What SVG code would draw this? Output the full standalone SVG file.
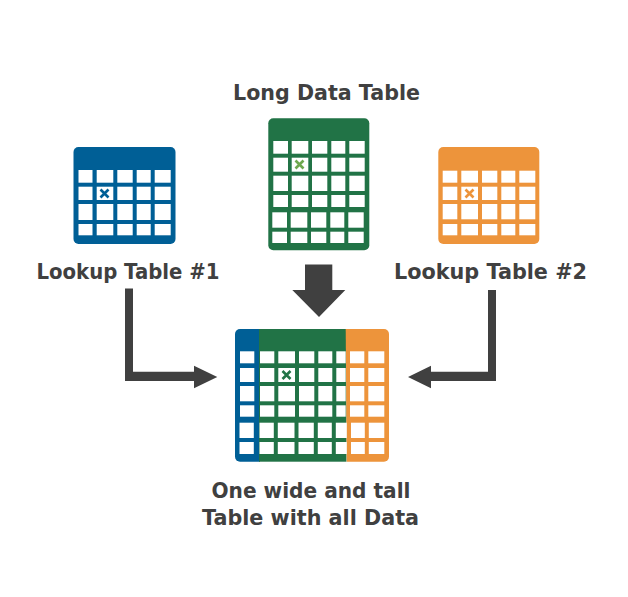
<svg xmlns="http://www.w3.org/2000/svg" width="628" height="597" viewBox="0 0 628 597">
<style>
.label{font-family:"DejaVu Sans",sans-serif;font-weight:700;font-size:21px;fill:#404040;text-anchor:middle}
.cell rect{fill:#fff}
.blue{fill:#005f96}.green{fill:#217346}.orange{fill:#ed943b}
.mark{fill:none;stroke-width:2.6}
.conn{fill:#404040}
</style>
<rect width="628" height="597" fill="#fff"/>
<g id="lookup-table-1">
<rect class="blue" x="73.5" y="147" width="102" height="97" rx="5"/>
<g class="cell">
<rect x="78.5" y="170" width="14" height="12.7"/><rect x="96.7" y="170" width="16.6" height="12.7"/><rect x="117.3" y="170" width="15.4" height="12.7"/><rect x="136.7" y="170" width="14" height="12.7"/><rect x="154.7" y="170" width="16" height="12.7"/>
<rect x="78.5" y="186.7" width="14" height="13.3"/><rect x="96.7" y="186.7" width="16.6" height="13.3"/><rect x="117.3" y="186.7" width="15.4" height="13.3"/><rect x="136.7" y="186.7" width="14" height="13.3"/><rect x="154.7" y="186.7" width="16" height="13.3"/>
<rect x="78.5" y="204" width="14" height="16"/><rect x="96.7" y="204" width="16.6" height="16"/><rect x="117.3" y="204" width="15.4" height="16"/><rect x="136.7" y="204" width="14" height="16"/><rect x="154.7" y="204" width="16" height="16"/>
<rect x="78.5" y="224" width="14" height="11.3"/><rect x="96.7" y="224" width="16.6" height="11.3"/><rect x="117.3" y="224" width="15.4" height="11.3"/><rect x="136.7" y="224" width="14" height="11.3"/><rect x="154.7" y="224" width="16" height="11.3"/>
</g>
<path class="mark" stroke="#005f96" d="M100.5 189.5l8 8m0-8l-8 8"/>
<text class="label" x="128" y="279" textLength="183" lengthAdjust="spacingAndGlyphs">Lookup Table #1</text>
</g>
<g id="long-data-table">
<rect class="green" x="268.3" y="118.3" width="101" height="132" rx="5"/>
<g class="cell">
<rect x="273.3" y="141" width="14.7" height="12.7"/><rect x="291.7" y="141" width="16.6" height="12.7"/><rect x="312" y="141" width="15.3" height="12.7"/><rect x="331.3" y="141" width="14" height="12.7"/><rect x="349.3" y="141" width="15.4" height="12.7"/>
<rect x="273.3" y="157.7" width="14.7" height="14"/><rect x="291.7" y="157.7" width="16.6" height="14"/><rect x="312" y="157.7" width="15.3" height="14"/><rect x="331.3" y="157.7" width="14" height="14"/><rect x="349.3" y="157.7" width="15.4" height="14"/>
<rect x="273.3" y="175.7" width="14.7" height="15.3"/><rect x="291.7" y="175.7" width="16.6" height="15.3"/><rect x="312" y="175.7" width="15.3" height="15.3"/><rect x="331.3" y="175.7" width="14" height="15.3"/><rect x="349.3" y="175.7" width="15.4" height="15.3"/>
<rect x="273.3" y="195" width="14.7" height="12"/><rect x="291.7" y="195" width="16.6" height="12"/><rect x="312" y="195" width="15.3" height="12"/><rect x="331.3" y="195" width="14" height="12"/><rect x="349.3" y="195" width="15.4" height="12"/>
<rect x="272.3" y="212.3" width="14.7" height="15.4"/><rect x="290.7" y="212.3" width="16.6" height="15.4"/><rect x="311" y="212.3" width="15.3" height="15.4"/><rect x="330.3" y="212.3" width="14" height="15.4"/><rect x="348.3" y="212.3" width="15.4" height="15.4"/>
<rect x="272.3" y="231.7" width="14.7" height="11.3"/><rect x="290.7" y="231.7" width="16.6" height="11.3"/><rect x="311" y="231.7" width="15.3" height="11.3"/><rect x="330.3" y="231.7" width="14" height="11.3"/><rect x="348.3" y="231.7" width="15.4" height="11.3"/>
</g>
<path class="mark" stroke="#6fa84f" d="M295.5 160.5l8 8m0-8l-8 8"/>
<text class="label" x="326.5" y="100" textLength="187" lengthAdjust="spacingAndGlyphs">Long Data Table</text>
</g>
<g id="lookup-table-2">
<rect class="orange" x="438.3" y="147" width="101" height="97" rx="5"/>
<g class="cell">
<rect x="442.7" y="170.7" width="14.6" height="12"/><rect x="461.3" y="170.7" width="16.7" height="12"/><rect x="482" y="170.7" width="15.3" height="12"/><rect x="501.3" y="170.7" width="14" height="12"/><rect x="519.3" y="170.7" width="16" height="12"/>
<rect x="442.7" y="186.7" width="14.6" height="13.3"/><rect x="461.3" y="186.7" width="16.7" height="13.3"/><rect x="482" y="186.7" width="15.3" height="13.3"/><rect x="501.3" y="186.7" width="14" height="13.3"/><rect x="519.3" y="186.7" width="16" height="13.3"/>
<rect x="442.7" y="204" width="14.6" height="15.3"/><rect x="461.3" y="204" width="16.7" height="15.3"/><rect x="482" y="204" width="15.3" height="15.3"/><rect x="501.3" y="204" width="14" height="15.3"/><rect x="519.3" y="204" width="16" height="15.3"/>
<rect x="442.7" y="224" width="14.6" height="11.3"/><rect x="461.3" y="224" width="16.7" height="11.3"/><rect x="482" y="224" width="15.3" height="11.3"/><rect x="501.3" y="224" width="14" height="11.3"/><rect x="519.3" y="224" width="16" height="11.3"/>
</g>
<path class="mark" stroke="#ed943b" d="M465.5 189.5l8 8m0-8l-8 8"/>
<text class="label" x="490.5" y="279" textLength="193" lengthAdjust="spacingAndGlyphs">Lookup Table #2</text>
</g>
<g id="combined-table">
<path class="blue" d="M240 329H260V461.7H240a5 5 0 0 1-5-5V334a5 5 0 0 1 5-5z"/>
<rect class="green" x="259" y="329" width="87.500" height="132.700"/>
<path class="orange" d="M345.700 329H384a5 5 0 0 1 5 5V456.700a5 5 0 0 1-5 5H346.700z"/>
<g class="cell">
<rect x="240" y="351.300" width="14.300" height="12"/><rect x="260" y="351.300" width="14.300" height="12"/><rect x="278.300" y="351.300" width="16.700" height="12"/><rect x="299" y="351.300" width="15.300" height="12"/><rect x="318.300" y="351.300" width="14" height="12"/><rect x="336.300" y="351.300" width="9.400" height="12"/><rect x="350" y="351.300" width="14.300" height="12"/><rect x="368.300" y="351.300" width="16" height="12"/>
<rect x="240" y="368" width="14.300" height="14"/><rect x="260" y="368" width="14.300" height="14"/><rect x="278.300" y="368" width="16.700" height="14"/><rect x="299" y="368" width="15.300" height="14"/><rect x="318.300" y="368" width="14" height="14"/><rect x="336.300" y="368" width="9.400" height="14"/><rect x="350" y="368" width="14.300" height="14"/><rect x="368.300" y="368" width="16" height="14"/>
<rect x="240" y="386" width="14.300" height="15.300"/><rect x="260" y="386" width="14.300" height="15.300"/><rect x="278.300" y="386" width="16.700" height="15.300"/><rect x="299" y="386" width="15.300" height="15.300"/><rect x="318.300" y="386" width="14" height="15.300"/><rect x="336.300" y="386" width="9.400" height="15.300"/><rect x="350" y="386" width="14.300" height="15.300"/><rect x="368.300" y="386" width="16" height="15.300"/>
<rect x="240" y="405.300" width="14.300" height="11.400"/><rect x="260" y="405.300" width="14.300" height="11.400"/><rect x="278.300" y="405.300" width="16.700" height="11.400"/><rect x="299" y="405.300" width="15.300" height="11.400"/><rect x="318.300" y="405.300" width="14" height="11.400"/><rect x="336.300" y="405.300" width="9.400" height="11.400"/><rect x="350" y="405.300" width="14.300" height="11.400"/><rect x="368.300" y="405.300" width="16" height="11.400"/>
<rect x="239.500" y="422.700" width="14.300" height="15.300"/><rect x="259.500" y="422.700" width="14.300" height="15.300"/><rect x="277.800" y="422.700" width="16.700" height="15.300"/><rect x="298.500" y="422.700" width="15.300" height="15.300"/><rect x="317.800" y="422.700" width="14" height="15.300"/><rect x="335.800" y="422.700" width="11" height="15.300"/><rect x="351" y="422.700" width="13.800" height="15.300"/><rect x="368.800" y="422.700" width="15.500" height="15.300"/>
<rect x="239.500" y="442" width="14.300" height="12"/><rect x="259.500" y="442" width="14.300" height="12"/><rect x="277.800" y="442" width="16.700" height="12"/><rect x="298.500" y="442" width="15.300" height="12"/><rect x="317.800" y="442" width="14" height="12"/><rect x="335.800" y="442" width="11" height="12"/><rect x="351" y="442" width="13.800" height="12"/><rect x="368.800" y="442" width="15.500" height="12"/>
</g>
<path class="mark" stroke="#217346" d="M282.500 371l8 8m0-8l-8 8"/>
<text class="label" x="311" y="498" textLength="199" lengthAdjust="spacingAndGlyphs">One wide and tall</text>
<text class="label" x="310.500" y="525" textLength="217" lengthAdjust="spacingAndGlyphs">Table with all Data</text>
</g>
<g id="connectors">
<path class="conn" d="M125 288.500H133V371.700H194V365.700L217.300 377L194 388.300V381H125z"/>
<path class="conn" d="M305 264.500H332.300V290H345.300L319 317L292.300 290H305z"/>
<path class="conn" d="M496 290H488V371.700H431V365.700L408 377L431 388.300V381H496z"/>
</g>
</svg>
